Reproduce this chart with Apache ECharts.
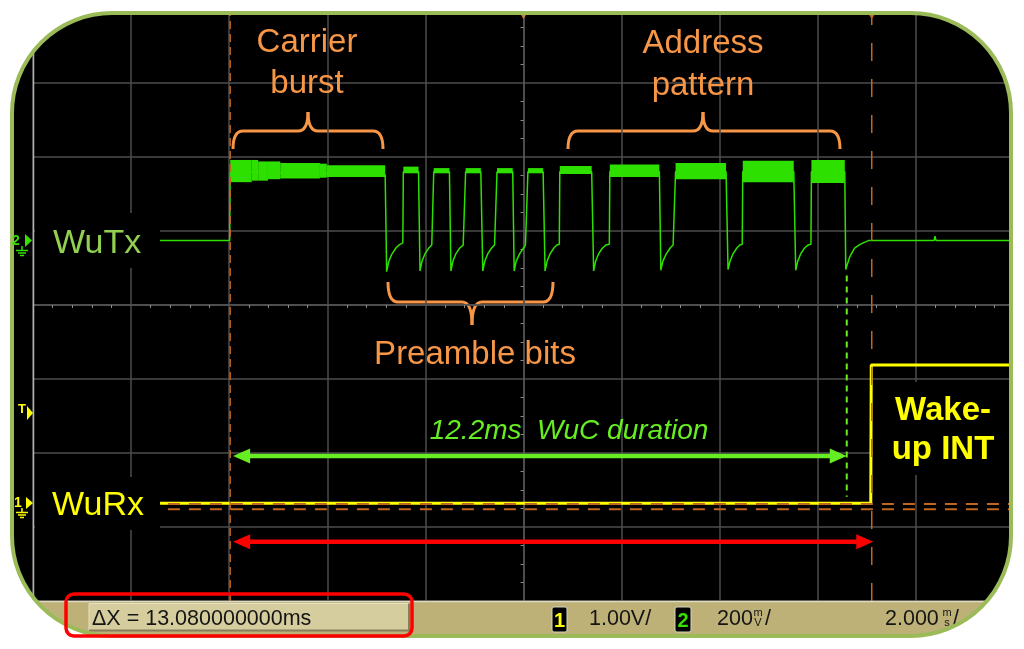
<!DOCTYPE html>
<html>
<head>
<meta charset="utf-8">
<title>WuC timing</title>
<script src="https://cdn.jsdelivr.net/npm/echarts@6/dist/echarts.min.js"></script>
<style>
  html, body { margin: 0; padding: 0; background: #fff; }
  #chart { width: 1024px; height: 649px; }
</style>
</head>
<body>
<div id="chart"></div>
<script>
// time in ms (trigger at 0, 2 ms/div), level in screen divisions (0 = centre line)
const wutxTrace = [
  [-7.41, 0.87], [-5.99, 0.87], [-5.98, 1.80], [-2.82, 1.76],
  [-2.79, 0.45], [-2.75, 0.58], [-2.69, 0.68], [-2.59, 0.78], [-2.52, 0.82], [-2.46, 0.84],
  [-2.45, 1.80], [-2.14, 1.80],
  [-2.11, 0.46], [-2.07, 0.59], [-2.01, 0.69], [-1.93, 0.77], [-1.87, 0.81], [-1.84, 0.82],
  [-1.83, 1.80], [-1.51, 1.80],
  [-1.48, 0.46], [-1.44, 0.59], [-1.38, 0.69], [-1.30, 0.77], [-1.23, 0.81], [-1.19, 0.82],
  [-1.18, 1.80], [-0.87, 1.80],
  [-0.83, 0.46], [-0.79, 0.59], [-0.73, 0.69], [-0.65, 0.77], [-0.59, 0.81], [-0.55, 0.82],
  [-0.54, 1.80], [-0.22, 1.80],
  [-0.19, 0.46], [-0.15, 0.59], [-0.08, 0.69], [0.00, 0.77], [0.04, 0.81], [0.08, 0.82],
  [0.09, 1.80], [0.40, 1.80],
  [0.44, 0.46], [0.48, 0.59], [0.54, 0.69], [0.62, 0.77], [0.68, 0.81], [0.73, 0.82],
  [0.74, 1.80], [1.39, 1.80],
  [1.43, 0.46], [1.47, 0.59], [1.53, 0.69], [1.61, 0.77], [1.68, 0.81], [1.75, 0.82],
  [1.76, 1.80], [2.77, 1.80],
  [2.80, 0.47], [2.84, 0.59], [2.91, 0.69], [2.99, 0.77], [3.05, 0.81], [3.09, 0.82],
  [3.10, 1.80], [4.13, 1.80],
  [4.17, 0.48], [4.21, 0.59], [4.27, 0.69], [4.35, 0.77], [4.41, 0.81], [4.46, 0.82],
  [4.47, 1.80], [5.51, 1.80],
  [5.55, 0.47], [5.59, 0.59], [5.65, 0.69], [5.73, 0.77], [5.80, 0.81], [5.86, 0.82],
  [5.87, 1.80], [6.55, 1.80],
  [6.57, 0.48], [6.65, 0.65], [6.75, 0.77], [6.86, 0.82], [7.03, 0.87],
  [8.37, 0.87], [8.39, 0.93], [8.41, 0.87], [9.92, 0.87]
];

// envelope of the modulated parts: [t start, t end, top, bottom]
const wutxBursts = [
  [-5.98, -5.54, 1.96, 1.66],
  [-5.54, -5.41, 1.96, 1.68],
  [-5.41, -5.21, 1.94, 1.68],
  [-5.21, -4.96, 1.94, 1.70],
  [-4.96, -4.15, 1.92, 1.71],
  [-4.15, -4.01, 1.91, 1.72],
  [-4.01, -2.82, 1.89, 1.73],
  [-2.45, -2.14, 1.87, 1.78],
  [-1.83, -1.51, 1.85, 1.78],
  [-1.18, -0.87, 1.85, 1.78],
  [-0.54, -0.22, 1.85, 1.78],
  [0.09, 0.40, 1.85, 1.78],
  [0.74, 1.39, 1.88, 1.77],
  [1.76, 2.77, 1.90, 1.73],
  [3.10, 4.13, 1.92, 1.70],
  [4.47, 5.51, 1.95, 1.66],
  [5.87, 6.55, 1.96, 1.65]
];

const wurxTrace = [[-7.41, -2.68], [7.08, -2.68], [7.09, -0.81], [9.92, -0.81]];
const ch1Reference = [[-7.25, -2.76], [9.92, -2.76]];
const ch1Level = [[-7.25, -2.69], [9.92, -2.69]];
const cursorTimes = [-5.98, 7.10];
const wucEnd = [[6.59, 0.40], [6.59, -2.59]];
const wucArrow = [-5.92, 6.59, -2.04];   // [t from, t to, level]
const deltaArrow = [-5.92, 7.13, -3.20];
const topMarkers = [[0, 3.92], [7.10, 3.92]];

const TRACE = '#2ee000';
const ORANGE = '#f79646';
const CURSOR = '#c0661f';
const FONT = '"Liberation Sans", Arial, sans-serif';

const chart = echarts.init(document.getElementById('chart'));

const arrowItem = (color, width) => (params, api) => {
  const a = api.coord([api.value(0), api.value(2)]);
  const b = api.coord([api.value(1), api.value(2)]);
  const len = 17, half = 7.5;
  return {
    type: 'group',
    children: [
      { type: 'line', shape: { x1: a[0] + len - 2, y1: a[1], x2: b[0] - len + 2, y2: b[1] },
        style: { stroke: color, lineWidth: width } },
      { type: 'polygon', shape: { points: [[a[0], a[1]], [a[0] + len, a[1] - half], [a[0] + len, a[1] + half]] },
        style: { fill: color } },
      { type: 'polygon', shape: { points: [[b[0], b[1]], [b[0] - len, b[1] - half], [b[0] - len, b[1] + half]] },
        style: { fill: color } }
    ]
  };
};

const text = (x, y, str, font, fill, align, z) => ({
  type: 'text', x, y, z: z || 5,
  style: { text: str, font, fill, align: align || 'center', verticalAlign: 'middle' }
});

// curly brace: ends at xl / xr (y = yEnd), bar at yBar, spike at xm up/down to yTip
const brace = (xl, xr, xm, yEnd, yBar, yTip) => {
  const st = { stroke: ORANGE, lineWidth: 3, fill: null };
  const d = 10;
  return {
    type: 'group', z: 5,
    children: [
      { type: 'bezierCurve', shape: { x1: xl, y1: yEnd, cpx1: xl, cpy1: yBar, x2: xl + d, y2: yBar }, style: st },
      { type: 'line', shape: { x1: xl + d, y1: yBar, x2: xm - d, y2: yBar }, style: st },
      { type: 'bezierCurve', shape: { x1: xm - d, y1: yBar, cpx1: xm, cpy1: yBar, x2: xm, y2: yTip }, style: st },
      { type: 'bezierCurve', shape: { x1: xm, y1: yTip, cpx1: xm, cpy1: yBar, x2: xm + d, y2: yBar }, style: st },
      { type: 'line', shape: { x1: xm + d, y1: yBar, x2: xr - d, y2: yBar }, style: st },
      { type: 'bezierCurve', shape: { x1: xr - d, y1: yBar, cpx1: xr, cpy1: yBar, x2: xr, y2: yEnd }, style: st }
    ]
  };
};

const ground = (x, y, color) => [
  { type: 'line', shape: { x1: x, y1: y - 4, x2: x, y2: y }, style: { stroke: color, lineWidth: 1.5 } },
  { type: 'line', shape: { x1: x - 6, y1: y + 0.5, x2: x + 6, y2: y + 0.5 }, style: { stroke: color, lineWidth: 1.5 } },
  { type: 'line', shape: { x1: x - 4, y1: y + 3, x2: x + 4, y2: y + 3 }, style: { stroke: color, lineWidth: 1.5 } },
  { type: 'line', shape: { x1: x - 2, y1: y + 5.5, x2: x + 2, y2: y + 5.5 }, style: { stroke: color, lineWidth: 1.5 } }
];

const BAR_TEXT = '21.5px ' + FONT;
const SMALL = '11px ' + FONT;

const option = {
  backgroundColor: '#000',
  animation: false,
  grid: { left: 33, right: 10, top: 9, bottom: 48 },
  xAxis: {
    type: 'value', min: -10, max: 10, interval: 2,
    axisLine: { show: true, onZero: true, lineStyle: { color: '#555', width: 1.5 } },
    axisTick: { show: false },
    minorTick: { show: true, splitNumber: 5, length: 3, lineStyle: { color: '#8a8a8a', width: 1 } },
    axisLabel: { show: false },
    splitLine: { show: true, lineStyle: { color: '#4d4d4d', width: 1.5 } }
  },
  yAxis: {
    type: 'value', min: -4, max: 4, interval: 1,
    axisLine: { show: true, onZero: true, lineStyle: { color: '#555', width: 1.5 } },
    axisTick: { show: false },
    minorTick: { show: true, splitNumber: 4, length: 3, lineStyle: { color: '#8a8a8a', width: 1 } },
    axisLabel: { show: false },
    splitLine: { show: true, lineStyle: { color: '#4d4d4d', width: 1.5 } }
  },
  series: [
    {
      type: 'line', data: wurxTrace, symbol: 'none',
      lineStyle: { color: '#ffff00', width: 3 }
    },
    {
      type: 'line', data: ch1Level, symbol: 'none',
      lineStyle: { color: CURSOR, width: 2, type: [12, 9] }
    },
    {
      type: 'line', data: ch1Reference, symbol: 'none',
      lineStyle: { color: CURSOR, width: 2, type: [12, 9] }
    },
    {
      type: 'custom', data: wutxBursts, encode: { x: [0, 1], y: [2, 3] },
      renderItem: (params, api) => {
        const a = api.coord([api.value(0), api.value(2)]);
        const b = api.coord([api.value(1), api.value(3)]);
        return { type: 'rect', shape: { x: a[0], y: a[1], width: b[0] - a[0], height: b[1] - a[1] },
          style: { fill: TRACE } };
      }
    },
    {
      type: 'line', data: wutxTrace, symbol: 'none',
      lineStyle: { color: TRACE, width: 1.5 }
    },
    {
      type: 'line', data: [[cursorTimes[0], -4], [cursorTimes[0], 4]], symbol: 'none',
      lineStyle: { color: CURSOR, width: 1.5, type: [8, 5] }
    },
    {
      type: 'line', data: [[cursorTimes[1], -4], [cursorTimes[1], 4]], symbol: 'none',
      lineStyle: { color: CURSOR, width: 1.5, type: [18, 18] }
    },
    {
      type: 'line', data: wucEnd, symbol: 'none',
      lineStyle: { color: '#66ee22', width: 2, type: [6, 5] }
    },
    {
      type: 'custom', data: [wucArrow], encode: { x: [0, 1], y: 2 },
      renderItem: arrowItem('#66ee22', 4.5)
    },
    {
      type: 'custom', data: [deltaArrow], encode: { x: [0, 1], y: 2 },
      renderItem: arrowItem('#ff0000', 4.5)
    },
    {
      type: 'scatter', data: topMarkers, symbol: 'triangle', symbolRotate: 180,
      symbolSize: [10, 8], itemStyle: { color: '#f08c30' }
    }
  ],
  graphic: [
    // black backdrops behind labels
    { type: 'rect', z: 1, shape: { x: 35, y: 213, width: 125, height: 55 }, style: { fill: '#000' } },
    { type: 'rect', z: 1, shape: { x: 35, y: 477, width: 125, height: 53 }, style: { fill: '#000' } },
    { type: 'rect', z: 1, shape: { x: 873, y: 382, width: 140, height: 93 }, style: { fill: '#000' } },
    { type: 'line', z: 1, shape: { x1: 33.5, y1: 13, x2: 33.5, y2: 601 }, style: { stroke: '#b0b0b0', lineWidth: 1.5 } },

    text(307, 43, 'Carrier', '33px ' + FONT, ORANGE),
    text(307, 84, 'burst', '33px ' + FONT, ORANGE),
    text(703, 44, 'Address', '33px ' + FONT, ORANGE),
    text(703, 86, 'pattern', '33px ' + FONT, ORANGE),
    text(475, 355, 'Preamble bits', '33px ' + FONT, ORANGE),
    text(53, 243.5, 'WuTx', '34px ' + FONT, '#92d050', 'left'),
    text(52, 505.5, 'WuRx', '34px ' + FONT, '#ffff00', 'left'),
    text(569, 431.5, '12.2ms  WuC duration', 'italic 28px ' + FONT, '#66ee22'),
    text(943, 410.5, 'Wake-', 'bold 33px ' + FONT, '#ffff00'),
    text(943, 450, 'up INT', 'bold 33px ' + FONT, '#ffff00'),

    brace(233, 383, 308, 149, 131, 112),
    brace(568, 840, 703, 149, 131, 112),
    brace(388, 553, 472, 282, 302, 325),

    // status bar
    { type: 'rect', z: 50, shape: { x: 0, y: 601, width: 1024, height: 40 }, style: { fill: '#bdb178' } },
    { type: 'line', z: 50, shape: { x1: 0, y1: 601.5, x2: 1024, y2: 601.5 }, style: { stroke: '#dedac0', lineWidth: 1.5 } },
    { type: 'rect', z: 51, shape: { x: 89, y: 603.5, width: 320, height: 27 }, style: { fill: '#d5cd9e', stroke: '#e6e1c4', lineWidth: 1 } },
    { type: 'polyline', z: 51, shape: { points: [[89, 630.5], [409, 630.5], [409, 603.5]] }, style: { fill: null, stroke: '#857f5c', lineWidth: 2 } },
    { type: 'rect', z: 51, shape: { x: 552, y: 607, width: 15, height: 25, r: 2 }, style: { fill: '#000', stroke: '#d8d4b8', lineWidth: 1 } },
    { type: 'rect', z: 51, shape: { x: 675, y: 607, width: 16, height: 25, r: 2 }, style: { fill: '#000', stroke: '#d8d4b8', lineWidth: 1 } },
    text(92, 619, 'ΔX = 13.080000000ms', BAR_TEXT, '#151515', 'left', 52),
    text(559.5, 621, '1', 'bold 20px ' + FONT, '#ffff00', 'center', 52),
    text(683, 621, '2', 'bold 20px ' + FONT, '#33e000', 'center', 52),
    text(589, 619, '1.00V/', BAR_TEXT, '#151515', 'left', 52),
    text(717, 619, '200', BAR_TEXT, '#151515', 'left', 52),
    text(758, 613, 'm', SMALL, '#151515', 'center', 52),
    text(758, 623, 'V', SMALL, '#151515', 'center', 52),
    text(765, 619, '/', BAR_TEXT, '#151515', 'left', 52),
    text(885, 619, '2.000', BAR_TEXT, '#151515', 'left', 52),
    text(947, 613, 'm', SMALL, '#151515', 'center', 52),
    text(947, 623, 's', SMALL, '#151515', 'center', 52),
    text(953, 619, '/', BAR_TEXT, '#151515', 'left', 52),

    // white outside the rounded screen: a wide stroke whose inner edge is the screen outline
    { type: 'rect', z: 100, shape: { x: -48, y: -47, width: 1119, height: 743, r: 160 },
      style: { fill: null, stroke: '#fff', lineWidth: 120 } },
    { type: 'rect', z: 101, shape: { x: 12, y: 13, width: 999, height: 623, r: 100 },
      style: { fill: null, stroke: '#9bbb59', lineWidth: 4 } },
    { type: 'rect', z: 102, shape: { x: 66, y: 594, width: 346, height: 42, r: 8 },
      style: { fill: null, stroke: '#ff0000', lineWidth: 3.5 } },

    // channel / trigger markers at the left edge
    { type: 'group', z: 103, children: [
      text(16, 241, '2', 'bold 14px ' + FONT, '#33e000', 'center', 103),
      { type: 'polygon', z: 103, shape: { points: [[25, 234], [32, 240.5], [25, 247]] }, style: { fill: '#33e000' } },
      ...ground(22, 250, '#33e000'),
      text(22, 409, 'T', 'bold 13px ' + FONT, '#ffff00', 'center', 103),
      { type: 'polygon', z: 103, shape: { points: [[27, 406], [33, 413], [27, 420]] }, style: { fill: '#ffff00' } },
      text(18, 503, '1', 'bold 14px ' + FONT, '#ffff00', 'center', 103),
      { type: 'polygon', z: 103, shape: { points: [[26, 497], [33, 503], [26, 509]] }, style: { fill: '#ffff00' } },
      ...ground(22, 512, '#ffff00')
    ] }
  ]
};

chart.setOption(option);
</script>
</body>
</html>
